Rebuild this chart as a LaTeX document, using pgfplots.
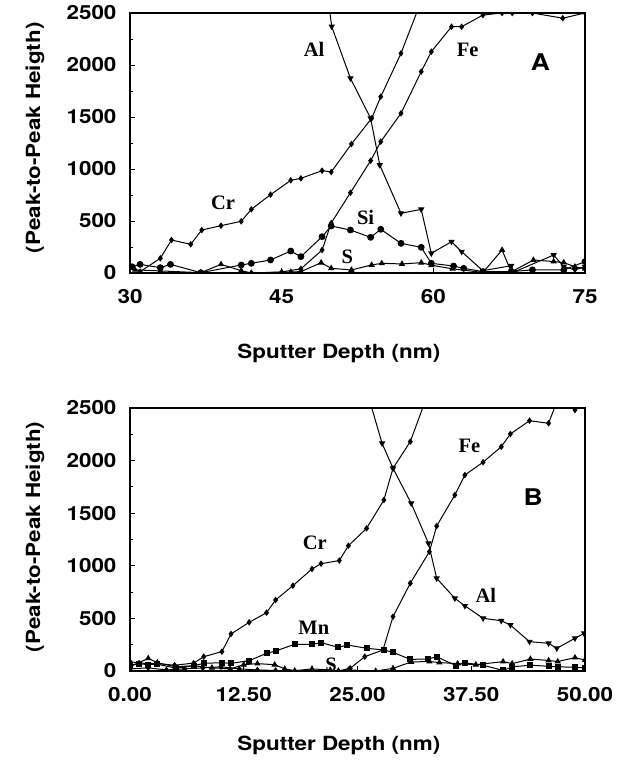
\documentclass[border=0pt]{standalone}
\usepackage{fontspec}
\setmainfont{TeX Gyre Heros}[FakeStretch=1.15]
\newfontfamily\elfont{Liberation Serif}
\usepackage{pgfplots}
\pgfplotsset{compat=1.18}

\newcommand{\labfont}{\fontsize{19.5}{22}\selectfont\bfseries}
\newcommand{\elem}[1]{{\elfont\fontsize{20.5}{22}\selectfont\bfseries #1}}

\pgfplotsset{
  depthaxis/.style={
    scale only axis, width=455pt,
    ymin=0, ymax=2500, ytick={0,500,...,2500}, minor y tick num=1,
    tick pos=left, tick align=inside,
    major tick length=5pt, minor tick length=3pt,
    every tick/.style={black, line width=0.8pt},
    axis line style={line width=1.7pt},
    tick label style={font=\labfont},
    label style={font=\labfont},
    /pgf/number format/assume math mode=true,
    /pgf/number format/1000 sep={},
    yticklabel style={anchor=east, xshift=-10pt},
    xticklabel style={anchor=north, yshift=-13pt},
    ylabel={(Peak-to-Peak Heigth)},
    xlabel={Sputter Depth (nm)},
    clip marker paths=true,
    every axis plot/.append style={black, line width=1pt, mark options={solid, fill=black}},
  },
  crline/.style={mark=diamond*, mark size=2.5pt},
  siline/.style={mark=*, mark size=2.9pt},
  sline/.style={mark=triangle*, mark size=2.7pt},
  alline/.style={mark=triangle*, mark size=2.7pt, mark options={rotate=180, fill=black}},
  mnline/.style={mark=square*, mark size=2.5pt},
}

\begin{document}
\begin{tikzpicture}
\useasboundingbox (0,0) rectangle (625pt,770pt);

% ---------- panel A ----------
\begin{axis}[depthaxis, at={(130pt,497pt)}, anchor=south west, height=260pt,
  xmin=30, xmax=75, xtick={30,45,60,75},
  ylabel style={at={(axis description cs:-0.209,0.52)}, anchor=center, rotate=0},
  xlabel style={at={(axis description cs:0.459,-0.308)}, anchor=center}]
% Cr
\addplot[crline] coordinates {
 (31.0,13) (33.0,141) (34.1,317) (36.0,276) (37.1,413) (39.0,455) (41.0,497)
 (42.0,612) (43.9,753) (45.9,891) (46.9,910) (49.0,984) (49.9,971) (51.9,1240)
 (53.9,1487) (54.8,1695) (56.8,2112) (58.9,2640)};
% Si
\addplot[siline] coordinates {
 (30.2,60) (31.0,83) (33.0,51) (34.0,83) (37.0,3) (41.0,77) (42.0,93) (43.9,125)
 (45.9,211) (46.9,157) (49.0,349) (49.9,452) (51.8,413) (53.8,343) (54.8,420)
 (56.8,285) (58.8,247) (59.8,93) (62.0,67) (63.0,45) (64.9,13) (67.7,13)
 (69.8,30) (72.9,29) (75.0,109)};
% S
\addplot[sline] coordinates {
 (30.5,30) (33.0,20) (37.0,3) (39.0,83) (41.0,22) (42.0,0) (45.9,10) (46.9,13)
 (48.9,99) (49.9,45) (51.9,29) (53.9,77) (54.9,93) (56.9,87) (58.8,99) (59.8,75)
 (61.9,40) (64.9,5) (66.8,221) (67.7,10) (69.9,125) (71.9,110) (72.9,100)
 (74.0,60) (75.0,40)};
% Fe
\addplot[crline] coordinates {
 (42.0,0) (45.0,10) (46.9,40) (49.0,221) (49.9,480) (51.8,772) (53.8,1080)
 (54.8,1263) (56.8,1535) (58.8,1936) (59.8,2128) (61.8,2368) (62.8,2368)
 (64.9,2480) (66.8,2500) (67.8,2500) (69.8,2500) (72.8,2450) (75.0,2500)};
% Al
\addplot[alline] coordinates {
 (49.5,2700) (49.95,2370) (51.8,1872) (53.8,1487) (54.7,1038) (56.8,574)
 (58.8,612) (59.8,189) (61.8,301) (62.8,205) (64.9,22) (67.7,70) (68.0,10)
 (71.9,173) (72.9,60) (74.0,30) (75.0,60)};

\node at (axis cs:48.2,2154) {\elem{Al}};
\node at (axis cs:63.4,2144) {\elem{Fe}};
\node at (axis cs:39.2,673) {\elem{Cr}};
\node at (axis cs:53.3,538) {\elem{Si}};
\node at (axis cs:51.5,154) {\elem{S}};
\node at (axis cs:70.6,2029) {\fontsize{23}{25}\selectfont\bfseries A};
\end{axis}

% ---------- panel B ----------
\begin{axis}[depthaxis, at={(130pt,99pt)}, anchor=south west, height=263pt,
  xmin=0, xmax=50, xtick={0,12.5,25,37.5,50},
  xticklabels={0.00,12.50,25.00,37.50,50.00},
  ylabel style={at={(axis description cs:-0.209,0.51)}, anchor=center, rotate=0},
  xlabel style={at={(axis description cs:0.459,-0.281)}, anchor=center}]
% Cr
\addplot[crline] coordinates {
 (0.0,90) (1.0,75) (3.0,70) (4.9,55) (7.0,75) (8.1,136) (10.1,184) (11.1,352)
 (13.1,463) (15.0,554) (16.0,675) (17.9,811) (20.0,970) (21.0,1020) (23.0,1050)
 (24.0,1191) (26.0,1356) (27.9,1626) (28.9,1927) (30.8,2180) (32.8,2650)};
% Al
\addplot[alline] coordinates {
 (25.9,2700) (27.7,2164) (28.9,1927) (30.9,1594) (32.8,1214) (33.7,881)
 (35.7,691) (36.8,619) (38.8,501) (40.8,478) (41.8,437) (43.9,279) (46.0,263)
 (46.9,216) (48.9,311) (49.9,358)};
% Fe
\addplot[crline] coordinates {
 (0.0,20) (2.0,30) (4.0,10) (6.0,20) (8.0,30) (10.0,40) (12.0,20) (14.0,10)
 (16.0,5) (18.1,0) (20.0,5) (22.9,0) (24.2,26) (25.8,136) (27.8,200) (28.9,516)
 (30.8,834) (32.9,1134) (33.7,1378) (35.7,1673) (36.8,1863) (38.8,1985)
 (40.8,2132) (41.8,2253) (43.9,2379) (46.0,2355) (47.3,2650) (48.9,2481) (50.0,2560)};
% Mn
\addplot[mnline] coordinates {
 (0.0,57) (1.0,70) (2.0,60) (3.0,65) (5.1,26) (7.0,50) (8.1,73) (10.1,79)
 (11.1,73) (13.1,98) (15.0,168) (16.0,190) (18.1,254) (20.0,254) (21.0,269)
 (22.9,225) (23.9,247) (26.0,216) (27.9,200) (28.9,178) (30.8,110) (32.8,115)
 (33.7,135) (35.8,52) (36.8,78) (38.8,55) (41.0,5) (42.0,40) (44.0,55)
 (46.0,45) (47.0,40) (48.9,35) (50.0,30)};
% S
\addplot[sline] coordinates {
 (0.0,40) (2.0,120) (3.0,80) (5.0,40) (7.0,50) (9.0,30) (11.0,20) (12.5,60)
 (14.0,70) (15.9,60) (17.0,20) (18.1,3) (20.0,20) (22.0,10) (22.9,0) (24.0,10)
 (27.0,0) (28.9,25) (30.9,86) (32.9,90) (34.0,80) (36.0,70) (38.0,60) (41.0,89)
 (42.0,70) (44.0,114) (46.0,100) (47.0,90) (48.9,127) (50.0,104)};

\node at (axis cs:20.3,1217) {\elem{Cr}};
\node at (axis cs:20.2,409) {\elem{Mn}};
\node at (axis cs:22.1,55) {\elem{S}};
\node at (axis cs:37.3,2139) {\elem{Fe}};
\node at (axis cs:39.1,722) {\elem{Al}};
\node at (axis cs:44.3,1654) {\fontsize{23}{25}\selectfont\bfseries B};
\end{axis}
\end{tikzpicture}
\end{document}
